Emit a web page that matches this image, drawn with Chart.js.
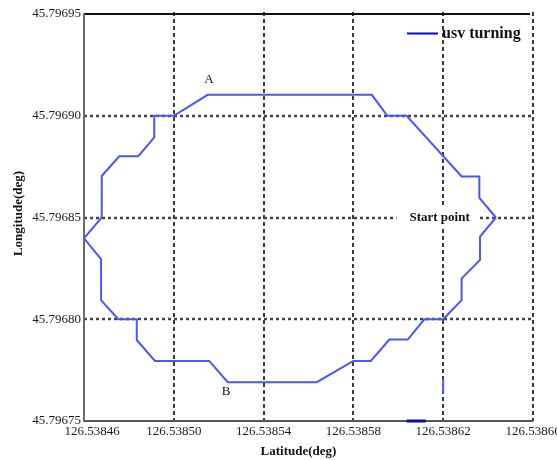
<!DOCTYPE html>
<html>
<head>
<meta charset="utf-8">
<script src="https://cdn.jsdelivr.net/npm/chart.js@4/dist/chart.umd.min.js"></script>
<style>
  html, body { margin: 0; padding: 0; background: #ffffff; }
  #c { display: block; }
</style>
</head>
<body>
<canvas id="c" width="557" height="460"></canvas>
<script>
// ---- Data ----
const xTicks = [126.53846, 126.53850, 126.53854, 126.53858, 126.53862, 126.53866];
const yTicks = [45.79675, 45.79680, 45.79685, 45.79690, 45.79695];

// USV turning track, starting at the "Start point"
const pathLat = [
  126.5386435, 126.5386364, 126.5386364, 126.5386282, 126.5386282, 126.5386200,
  126.5386116, 126.5386042, 126.5385960, 126.5385878, 126.5385800, 126.5385637,
  126.5385240, 126.5385158, 126.5384916, 126.5384835, 126.5384835, 126.5384753,
  126.5384676, 126.5384676, 126.5384600, 126.5384679, 126.5384679, 126.5384757,
  126.5384842, 126.5384913, 126.5384913, 126.5385000, 126.5385151, 126.5385882,
  126.5385951, 126.5386037, 126.5386282, 126.5386361, 126.5386361, 126.5386435
];
const pathLon = [
  45.7968500, 45.7968406, 45.7968292, 45.7968200, 45.7968094, 45.7968000,
  45.7968000, 45.7967900, 45.7967900, 45.7967795, 45.7967795, 45.7967691,
  45.7967691, 45.7967795, 45.7967795, 45.7967898, 45.7968000, 45.7968000,
  45.7968094, 45.7968295, 45.7968398, 45.7968500, 45.7968704, 45.7968801,
  45.7968801, 45.7968894, 45.7969000, 45.7969000, 45.7969103, 45.7969103,
  45.7969000, 45.7969000, 45.7968702, 45.7968702, 45.7968596, 45.7968500
];

// small stray marks visible in the figure
const strayALat = [126.5386200, 126.5386200];
const strayALon = [45.7967705, 45.7967636];
const strayBLat = [126.5386037, 126.5386122];
const strayBLon = [45.7967500, 45.7967500];

// text annotations (data coordinates)
const noteA = { text: 'A', x: 126.5385157, y: 45.7969176 };
const noteB = { text: 'B', x: 126.5385233, y: 45.7967644 };
const noteStart = { text: 'Start point', x: 126.5386184, y: 45.7968500 };
const seriesName = 'usv turning';
const xTitle = 'Latitude(deg)';
const yTitle = 'Longitude(deg)';

const toPts = (xs, ys) => xs.map((x, i) => ({ x: x, y: ys[i] }));

const SERIF = "'Liberation Serif', 'Times New Roman', serif";

const framePlugin = {
  id: 'frame',
  beforeDatasetsDraw(chart) {
    const { ctx, chartArea: a, scales: { x, y } } = chart;
    ctx.save();
    // vertical dashed grid lines
    ctx.strokeStyle = '#3a3a3a';
    ctx.lineWidth = 2;
    ctx.setLineDash([4, 3]);
    xTicks.slice(1).forEach(v => {
      const px = Math.round(x.getPixelForValue(v));
      ctx.beginPath();
      ctx.moveTo(px, a.top - 2);
      ctx.lineTo(px, a.bottom);
      ctx.stroke();
    });
    // horizontal dotted grid lines
    ctx.strokeStyle = '#444';
    ctx.lineWidth = 2.5;
    ctx.setLineDash([3, 3]);
    yTicks.slice(1, yTicks.length - 1).forEach(v => {
      const py = Math.round(y.getPixelForValue(v));
      ctx.beginPath();
      ctx.moveTo(a.left, py);
      ctx.lineTo(a.right, py);
      ctx.stroke();
    });
    ctx.setLineDash([]);
    // top border (solid black)
    ctx.strokeStyle = '#111';
    ctx.lineWidth = 2;
    ctx.beginPath();
    ctx.moveTo(a.left, a.top);
    ctx.lineTo(a.right - 3, a.top);
    ctx.stroke();
    // left axis
    ctx.strokeStyle = '#6a6a6a';
    ctx.beginPath();
    ctx.moveTo(a.left, a.top - 1);
    ctx.lineTo(a.left, a.bottom + 1);
    ctx.stroke();
    // bottom axis
    ctx.strokeStyle = '#555';
    ctx.beginPath();
    ctx.moveTo(a.left, a.bottom);
    ctx.lineTo(a.right, a.bottom);
    ctx.stroke();

    // Start point label with white background
    const sx = x.getPixelForValue(noteStart.x);
    const sy = y.getPixelForValue(noteStart.y);
    ctx.font = 'bold 13px ' + SERIF;
    const tw = ctx.measureText(noteStart.text).width;
    ctx.fillStyle = '#ffffff';
    ctx.fillRect(sx - tw / 2 - 13, sy - 11, tw + 21, 22);
    ctx.fillStyle = '#111';
    ctx.textAlign = 'center';
    ctx.textBaseline = 'middle';
    ctx.fillText(noteStart.text, sx, sy);
    ctx.restore();
  },
  afterDraw(chart) {
    const { ctx, chartArea: a, scales: { x, y } } = chart;
    ctx.save();
    ctx.fillStyle = '#111';
    ctx.textAlign = 'center';
    ctx.textBaseline = 'middle';
    ctx.font = '13px ' + SERIF;
    [noteA, noteB].forEach(n => {
      ctx.fillText(n.text, x.getPixelForValue(n.x), y.getPixelForValue(n.y));
    });
    // axis titles
    ctx.font = 'bold 13px ' + SERIF;
    ctx.fillText(xTitle, (a.left + a.right) / 2 - 10, 452);
    ctx.save();
    ctx.translate(19, (a.top + a.bottom) / 2 - 4);
    ctx.rotate(-Math.PI / 2);
    ctx.fillText(yTitle, 0, 0);
    ctx.restore();
    // legend
    ctx.strokeStyle = '#0000ff';
    ctx.lineWidth = 2;
    ctx.beginPath();
    ctx.moveTo(407, 33.5);
    ctx.lineTo(438, 33.5);
    ctx.stroke();
    ctx.font = 'bold 16px ' + SERIF;
    ctx.textAlign = 'left';
    ctx.fillText(seriesName, 442, 34);
    ctx.restore();
  }
};

const tickFont = { family: SERIF, size: 13 };

new Chart(document.getElementById('c'), {
  type: 'scatter',
  data: {
    datasets: [
      {
        label: seriesName,
        data: toPts(pathLat, pathLon),
        showLine: true,
        borderColor: 'rgb(72, 88, 245)',
        backgroundColor: 'rgb(72, 88, 245)',
        borderWidth: 2,
        pointRadius: 0,
        tension: 0,
        fill: false,
        clip: 4
      },
      {
        label: 'strayA',
        data: toPts(strayALat, strayALon),
        showLine: true,
        borderColor: 'rgb(80, 95, 245)',
        borderWidth: 2,
        pointRadius: 0,
        clip: 4
      },
      {
        label: 'strayB',
        data: toPts(strayBLat, strayBLon),
        showLine: true,
        borderColor: '#0b0ba8',
        borderWidth: 3,
        pointRadius: 0,
        clip: 4
      }
    ]
  },
  options: {
    responsive: false,
    animation: false,
    layout: { padding: { top: 14, right: 24, left: 0, bottom: 0 } },
    plugins: { legend: { display: false }, tooltip: { enabled: false } },
    scales: {
      x: {
        type: 'linear',
        min: xTicks[0],
        max: xTicks[xTicks.length - 1],
        afterBuildTicks: s => { s.ticks = xTicks.map(v => ({ value: v })); },
        afterFit: s => { s.height = 39; s.paddingLeft = 0; s.paddingRight = 0; },
        grid: { display: false, drawTicks: false },
        border: { display: false },
        ticks: {
          font: tickFont, color: '#1a1a1a', padding: 3,
          maxRotation: 0, minRotation: 0, autoSkip: false,
          // first label sits slightly right of its tick in the reference
          callback: (v, i) => (i === 0 ? '     ' : '') + Number(v).toFixed(5)
        }
      },
      y: {
        type: 'linear',
        min: yTicks[0],
        max: yTicks[yTicks.length - 1],
        afterBuildTicks: s => { s.ticks = yTicks.map(v => ({ value: v })); },
        afterFit: s => { s.width = 84; s.paddingTop = 0; s.paddingBottom = 0; },
        grid: { display: false, drawTicks: false },
        border: { display: false },
        ticks: {
          font: tickFont, color: '#1a1a1a', padding: 3,
          autoSkip: false,
          callback: v => Number(v).toFixed(5)
        }
      }
    }
  },
  plugins: [framePlugin]
});
</script>
</body>
</html>
